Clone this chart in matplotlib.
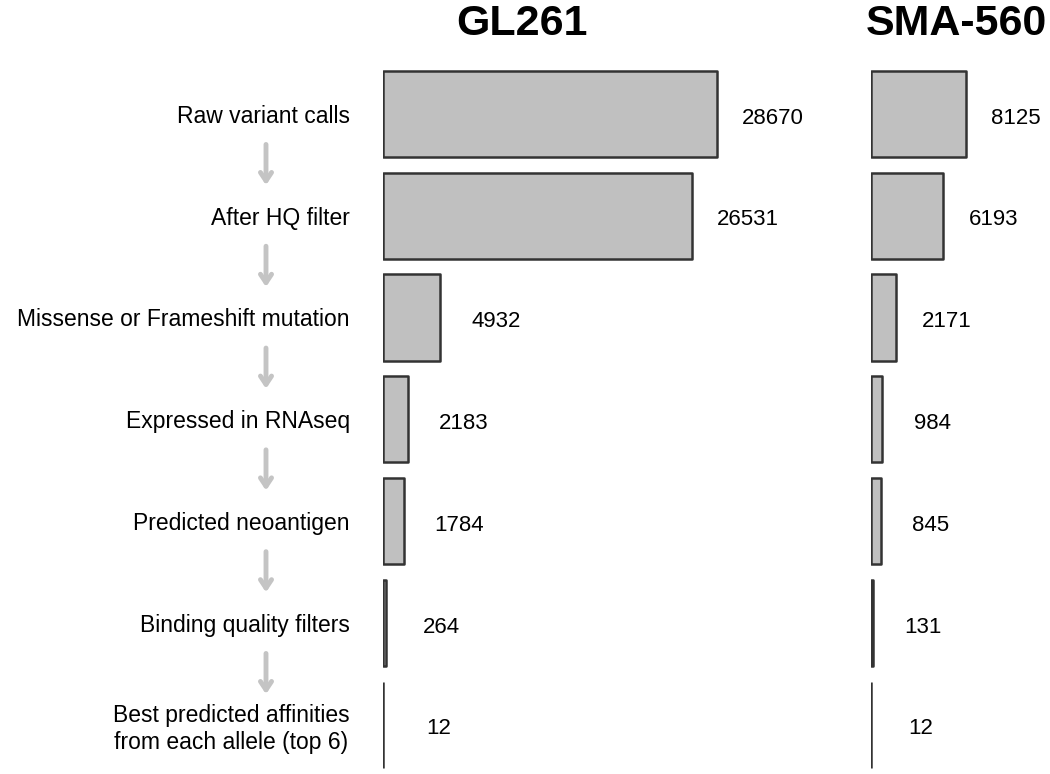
import matplotlib
matplotlib.use('Agg')
import matplotlib.pyplot as plt
import numpy as np

plt.rcParams['font.family'] = ['Liberation Sans', 'DejaVu Sans']

steps = ['Raw variant calls', 'After HQ filter', 'Missense or Frameshift mutation',
         'Expressed in RNAseq', 'Predicted neoantigen', 'Binding quality filters',
         'Best predicted affinities\nfrom each allele (top 6)']
gl261 = [28670, 26531, 4932, 2183, 1784, 264, 12]
sma560 = [8125, 6193, 2171, 984, 845, 131, 12]

BAR_FACE = '#c0c0c0'
BAR_EDGE = '#333333'
ARROW = '#c4c4c4'

fig = plt.figure(figsize=(10.5, 7.74), dpi=100)
ax1 = fig.add_axes([383/1050, 0, 408/1050, 711/774])
ax2 = fig.add_axes([871/1050, 0, 179/1050, 711/774])

y = np.arange(len(steps))
ymax = -0.5 + 711/101.8


def panel(ax, values, xmax, offset):
    ax.barh(y, values, height=0.845, color=BAR_FACE, edgecolor=BAR_EDGE,
            linewidth=1.8, joinstyle='round')
    for yi, v in zip(y, values):
        ax.annotate(str(v), xy=(v, yi), xytext=(offset, -3), textcoords='offset points',
                    ha='center', va='center', fontsize=16, annotation_clip=False)
    ax.set_xlim(0, xmax)
    ax.set_ylim(ymax, -0.5)
    ax.set_xticks([])
    for s in ax.spines.values():
        s.set_visible(False)


panel(ax1, gl261, 35000, 40)
panel(ax2, sma560, 15339, 36)

ax1.set_yticks(y)
ax1.set_yticklabels(steps, fontsize=16.5)
ax1.tick_params(axis='y', length=0, pad=24)
for lab in ax1.get_yticklabels():
    lab.set_multialignment('center')
ax2.set_yticks([])

# grey arrows between the steps
for yi in y[:-1]:
    ax1.annotate('', xy=(266/1050, yi + 0.7), xytext=(266/1050, yi + 0.3),
                 xycoords=(fig.transFigure, ax1.transData),
                 textcoords=(fig.transFigure, ax1.transData),
                 arrowprops=dict(arrowstyle='->, head_length=0.6, head_width=0.4',
                                 color=ARROW, lw=3.5, shrinkA=0, shrinkB=0),
                 annotation_clip=False)

fig.text(522/1050, 1 - 24/774, 'GL261', ha='center', va='center',
         fontsize=31, fontweight='bold')
fig.text(956/1050, 1 - 24/774, 'SMA-560', ha='center', va='center',
         fontsize=31, fontweight='bold')

fig.savefig('out.png', dpi=100)
